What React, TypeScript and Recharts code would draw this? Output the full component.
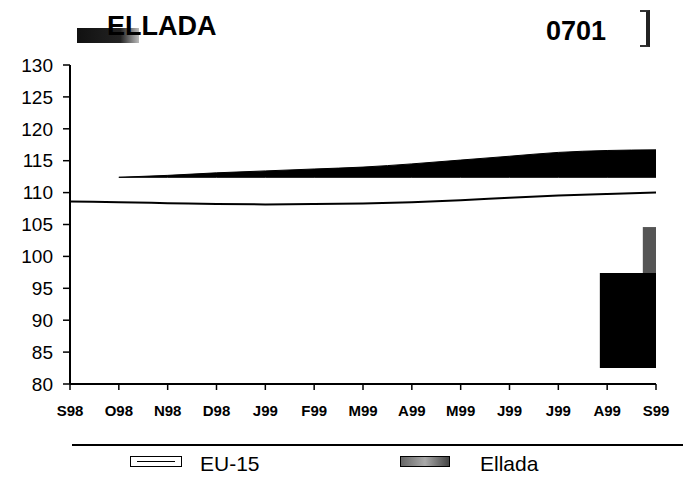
import React from 'react';
import { ComposedChart, Area, Line, XAxis, YAxis, ReferenceArea } from 'recharts';

const months = ['S98', 'O98', 'N98', 'D98', 'J99', 'F99', 'M99', 'A99', 'M99', 'J99', 'J99', 'A99', 'S99'];
const eu15 = [108.6, 108.5, 108.35, 108.2, 108.15, 108.2, 108.3, 108.5, 108.8, 109.2, 109.55, 109.8, 110.0];
const elladaLow = [null, 112.4, 112.4, 112.4, 112.4, 112.4, 112.4, 112.4, 112.4, 112.4, 112.4, 112.4, 112.4];
const elladaHigh = [null, 112.4, 112.7, 113.1, 113.4, 113.7, 114.0, 114.5, 115.1, 115.7, 116.3, 116.6, 116.7];
const yTicks = [80, 85, 90, 95, 100, 105, 110, 115, 120, 125, 130];
// scan blotches in the lower right corner, in axis units
const blotch = { x1: 10.85, x2: 12, y1: 82.5, y2: 97.4 };
const blotchStrip = { x1: 11.73, x2: 12, y1: 97.4, y2: 104.6 };

const FONT = '"Liberation Sans", Arial, sans-serif';

const data = months.map((m, i) => ({
  idx: i,
  month: m,
  eu15: eu15[i],
  ellada: elladaHigh[i] == null ? null : [elladaLow[i], elladaHigh[i]],
}));

export default function App() {
  return (
    <div style={{ position: 'absolute', left: 0, top: 0, width: 689, height: 478, background: '#fff', fontFamily: FONT }}>
      {/* smudge behind title */}
      <div style={{ position: 'absolute', left: 77, top: 28, width: 62, height: 15, background: 'linear-gradient(to right, #111 0%, #222 70%, #bbb 100%)' }} />
      <div style={{ position: 'absolute', left: 107, top: 9, fontSize: 27, fontWeight: 'bold', color: '#000', lineHeight: '34px' }}>ELLADA</div>
      <div style={{ position: 'absolute', left: 546, top: 14, fontSize: 27, fontWeight: 'bold', color: '#000', lineHeight: '34px' }}>0701</div>
      <div style={{ position: 'absolute', left: 640, top: 10, width: 6, height: 33, borderTop: '2px solid #333', borderBottom: '2px solid #333', borderRight: '4px solid #222' }} />

      <ComposedChart width={689} height={478} data={data} margin={{ top: 65, right: 33, bottom: 64, left: 0 }} style={{ position: 'absolute', left: 0, top: 0 }}>
        <XAxis
          dataKey="idx"
          type="number"
          domain={[0, 12]}
          ticks={months.map((_, i) => i)}
          tickFormatter={(i: number) => months[i]}
          interval={0}
          height={30}
          tickSize={6}
          tickMargin={15}
          axisLine={{ stroke: '#000', strokeWidth: 2 }}
          tickLine={{ stroke: '#000', strokeWidth: 1.5 }}
          tick={{ fill: '#000', fontSize: 15, fontWeight: 'bold', fontFamily: FONT }}
        />
        <YAxis
          type="number"
          domain={[80, 130]}
          ticks={yTicks}
          interval={0}
          width={70}
          tickSize={7}
          tickMargin={10}
          axisLine={{ stroke: '#000', strokeWidth: 2 }}
          tickLine={{ stroke: '#000', strokeWidth: 1.5 }}
          tick={{ fill: '#000', fontSize: 19, fontFamily: FONT }}
        />
        <Area
          type="monotone"
          dataKey="ellada"
          stroke="#000"
          strokeWidth={1}
          fill="#000"
          fillOpacity={1}
          isAnimationActive={false}
        />
        <Line
          type="monotone"
          dataKey="eu15"
          stroke="#000"
          strokeWidth={2}
          dot={false}
          isAnimationActive={false}
        />
        <ReferenceArea x1={blotch.x1} x2={blotch.x2} y1={blotch.y1} y2={blotch.y2} fill="#000" fillOpacity={1} stroke="none" />
        <ReferenceArea x1={blotchStrip.x1} x2={blotchStrip.x2} y1={blotchStrip.y1} y2={blotchStrip.y2} fill="#555" fillOpacity={1} stroke="none" />
      </ComposedChart>

      {/* legend */}
      <div style={{ position: 'absolute', left: 72, top: 444, width: 611, height: 0, borderTop: '2px solid #000' }} />
      <div style={{ position: 'absolute', left: 130, top: 456, width: 50, height: 9, border: '1.5px solid #000' }}>
        <div style={{ position: 'absolute', left: 6, top: 4, width: 38, height: 0, borderTop: '1.5px solid #000' }} />
      </div>
      <div style={{ position: 'absolute', left: 200, top: 453, fontSize: 21, lineHeight: '22px', color: '#000' }}>EU-15</div>
      <div style={{ position: 'absolute', left: 400, top: 456, width: 48, height: 9, border: '1.5px solid #000', background: 'linear-gradient(to right, #666 0%, #aaa 50%, #444 100%)' }} />
      <div style={{ position: 'absolute', left: 480, top: 453, fontSize: 21, lineHeight: '22px', color: '#000' }}>Ellada</div>
    </div>
  );
}
